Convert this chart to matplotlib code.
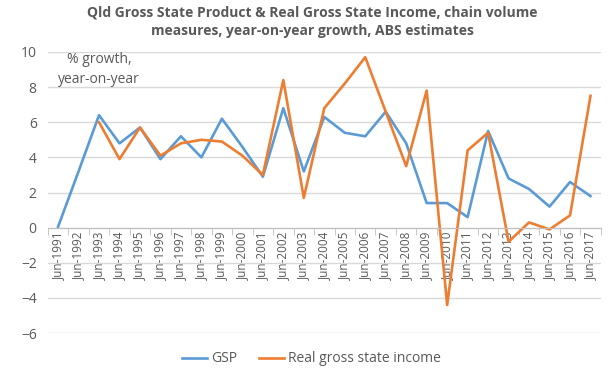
import numpy as np
import matplotlib.pyplot as plt

plt.rcParams['font.family'] = ['Open Sans', 'DejaVu Sans']

years = list(range(1991, 2018))
labels = ['Jun-%d' % y for y in years]

gsp = [0.05, 3.2, 6.4, 4.8, 5.7, 3.9, 5.2, 4.0, 6.2, 4.6, 2.9, 6.8, 3.2, 6.3,
       5.4, 5.2, 6.6, 4.8, 1.4, 1.4, 0.6, 5.5, 2.8, 2.2, 1.2, 2.6, 1.8]
rgsi = [np.nan, np.nan, 6.0, 3.9, 5.7, 4.1, 4.8, 5.0, 4.9, 4.1, 3.0, 8.4, 1.7, 6.8,
        8.2, 9.7, 6.6, 3.5, 7.8, -4.4, 4.4, 5.4, -0.8, 0.3, -0.1, 0.7, 7.5]

grey = '#595959'
fig = plt.figure(figsize=(6.13, 3.79), dpi=100)
ax = fig.add_axes([0.078, 0.121, 0.902, 0.742])

x = np.arange(len(years))
ax.plot(x, gsp, color='#5B9BD5', lw=1.9, label='GSP')
ax.plot(x, rgsi, color='#ED7D31', lw=1.9, label='Real gross state income')

ax.set_xlim(-0.5, len(years) - 0.5)
ax.set_ylim(-6, 10)
ax.set_yticks(np.arange(-6, 11, 2))
ax.yaxis.grid(True, color='#D9D9D9', lw=1)
ax.set_axisbelow(True)
ax.tick_params(axis='y', length=0, labelsize=10, labelcolor=grey, pad=8)

for s in ['top', 'right', 'left']:
    ax.spines[s].set_visible(False)
ax.spines['bottom'].set_position(('data', 0))
ax.spines['bottom'].set_color('#BFBFBF')

ax.set_xticks(x)
ax.set_xticklabels(labels, rotation=90, fontsize=8.5, color=grey)
ax.tick_params(axis='x', which='major', length=0, pad=3)
ax.set_xticks(np.arange(-0.5, len(years), 1), minor=True)
ax.tick_params(axis='x', which='minor', length=5, color='#BFBFBF')

ax.text(2.0, 9.0, '% growth,\nyear-on-year', ha='center', va='center',
        fontsize=10, color=grey, linespacing=1.5)

fig.suptitle('Qld Gross State Product & Real Gross State Income, chain volume\n'
             'measures, year-on-year growth, ABS estimates',
             x=0.51, y=0.985, fontsize=10, fontweight='bold', color=grey,
             linespacing=1.4)

leg = fig.legend(loc='lower center', ncol=2, frameon=False, fontsize=10,
                 bbox_to_anchor=(0.508, 0.0), handlelength=1.8, handletextpad=0.3,
                 columnspacing=1.6)
for t in leg.get_texts():
    t.set_color(grey)

fig.savefig('out.png', dpi=100)
